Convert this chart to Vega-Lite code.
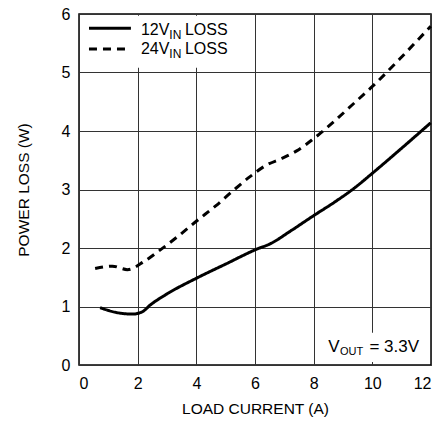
{
  "$schema": "https://vega.github.io/schema/vega-lite/v6.json",
  "width": 352,
  "height": 351,
  "autosize": {"type": "none"},
  "padding": {"left": 79, "top": 14, "right": 12, "bottom": 56},
  "background": "white",
  "config": {
    "font": "Liberation Sans",
    "view": {"stroke": "black", "strokeWidth": 1.5},
    "axis": {
      "domain": false,
      "ticks": false,
      "grid": true,
      "gridColor": "#333333",
      "gridWidth": 1,
      "gridOpacity": 1,
      "labelFont": "Liberation Sans",
      "titleFont": "Liberation Sans",
      "labelFontSize": 16,
      "titleFontSize": 15.5,
      "labelColor": "black",
      "titleColor": "black",
      "titleFontWeight": "normal"
    }
  },
  "datasets": {
    "curves": [
      {"series": "12V", "current": 0.72, "loss": 0.98},
      {"series": "12V", "current": 1.25, "loss": 0.90},
      {"series": "12V", "current": 1.82, "loss": 0.87},
      {"series": "12V", "current": 2.16, "loss": 0.91},
      {"series": "12V", "current": 2.44, "loss": 1.03},
      {"series": "12V", "current": 2.95, "loss": 1.20},
      {"series": "12V", "current": 4.03, "loss": 1.49},
      {"series": "12V", "current": 5.02, "loss": 1.73},
      {"series": "12V", "current": 6.01, "loss": 1.97},
      {"series": "12V", "current": 6.55, "loss": 2.08},
      {"series": "12V", "current": 7.18, "loss": 2.28},
      {"series": "12V", "current": 8.02, "loss": 2.56},
      {"series": "12V", "current": 8.70, "loss": 2.78},
      {"series": "12V", "current": 9.35, "loss": 3.01},
      {"series": "12V", "current": 10.03, "loss": 3.29},
      {"series": "12V", "current": 10.94, "loss": 3.68},
      {"series": "12V", "current": 11.99, "loss": 4.14},
      {"series": "24V", "current": 0.55, "loss": 1.65},
      {"series": "24V", "current": 1.14, "loss": 1.69},
      {"series": "24V", "current": 1.65, "loss": 1.63},
      {"series": "24V", "current": 2.22, "loss": 1.77},
      {"series": "24V", "current": 2.67, "loss": 1.93},
      {"series": "24V", "current": 3.30, "loss": 2.17},
      {"series": "24V", "current": 4.03, "loss": 2.47},
      {"series": "24V", "current": 4.66, "loss": 2.72},
      {"series": "24V", "current": 5.23, "loss": 2.97},
      {"series": "24V", "current": 5.83, "loss": 3.22},
      {"series": "24V", "current": 6.40, "loss": 3.42},
      {"series": "24V", "current": 6.91, "loss": 3.53},
      {"series": "24V", "current": 7.42, "loss": 3.66},
      {"series": "24V", "current": 7.95, "loss": 3.85},
      {"series": "24V", "current": 8.60, "loss": 4.12},
      {"series": "24V", "current": 9.30, "loss": 4.44},
      {"series": "24V", "current": 10.02, "loss": 4.77},
      {"series": "24V", "current": 10.93, "loss": 5.23},
      {"series": "24V", "current": 11.99, "loss": 5.79}
    ],
    "boxes": [
      {"x1": 0.05, "x2": 5.3, "y1": 5.08, "y2": 5.97},
      {"x1": 8.4, "x2": 11.95, "y1": 0.05, "y2": 0.55}
    ],
    "legendLines": [
      {"series": "12V", "current": 0.34, "loss": 5.755},
      {"series": "12V", "current": 1.77, "loss": 5.755},
      {"series": "24V", "current": 0.34, "loss": 5.40},
      {"series": "24V", "current": 1.77, "loss": 5.40}
    ],
    "mainText": [
      {"x": 2.11, "y": 5.72, "t": "12V"},
      {"x": 3.61, "y": 5.72, "t": "LOSS"},
      {"x": 2.11, "y": 5.40, "t": "24V"},
      {"x": 3.61, "y": 5.40, "t": "LOSS"}
    ],
    "subText": [
      {"x": 3.08, "y": 5.72, "t": "IN"},
      {"x": 3.08, "y": 5.40, "t": "IN"}
    ],
    "voutMain": [
      {"x": 8.5, "y": 0.313, "t": "V"},
      {"x": 9.9, "y": 0.313, "t": "= 3.3V"}
    ],
    "voutSub": [
      {"x": 8.9, "y": 0.313, "t": "OUT"}
    ]
  },
  "layer": [
    {
      "data": {"name": "boxes"},
      "mark": {"type": "rect", "fill": "white"},
      "encoding": {
        "x": {"field": "x1", "type": "quantitative", "scale": {"domain": [0, 12]}},
        "x2": {"field": "x2"},
        "y": {"field": "y1", "type": "quantitative", "scale": {"domain": [0, 6]}},
        "y2": {"field": "y2"}
      }
    },
    {
      "data": {"name": "curves"},
      "mark": {"type": "line", "interpolate": "monotone", "color": "black", "strokeWidth": 3},
      "encoding": {
        "x": {"field": "current", "type": "quantitative", "title": "LOAD CURRENT (A)",
              "scale": {"domain": [0, 12], "nice": false},
              "axis": {"values": [0, 2, 4, 6, 8, 10, 12], "format": "d", "labelPadding": 10, "titlePadding": 10}},
        "y": {"field": "loss", "type": "quantitative", "title": "POWER LOSS (W)",
              "scale": {"domain": [0, 6], "nice": false},
              "axis": {"values": [0, 1, 2, 3, 4, 5, 6], "format": "d", "labelPadding": 9, "titlePadding": 30}},
        "detail": {"field": "series"},
        "strokeDash": {"field": "series", "type": "nominal",
                       "scale": {"domain": ["12V", "24V"], "range": [[1, 0], [8, 6]]}, "legend": null}
      }
    },
    {
      "data": {"name": "legendLines"},
      "mark": {"type": "line", "color": "black", "strokeWidth": 3},
      "encoding": {
        "x": {"field": "current", "type": "quantitative"},
        "y": {"field": "loss", "type": "quantitative"},
        "detail": {"field": "series"},
        "strokeDash": {"field": "series", "type": "nominal",
                       "scale": {"domain": ["12V", "24V"], "range": [[1, 0], [8, 6]]}, "legend": null}
      }
    },
    {
      "data": {"name": "mainText"},
      "mark": {"type": "text", "align": "left", "baseline": "middle", "fontSize": 16, "color": "black"},
      "encoding": {
        "x": {"field": "x", "type": "quantitative"},
        "y": {"field": "y", "type": "quantitative"},
        "text": {"field": "t"}
      }
    },
    {
      "data": {"name": "subText"},
      "mark": {"type": "text", "align": "left", "baseline": "middle", "fontSize": 12, "dy": 5, "color": "black"},
      "encoding": {
        "x": {"field": "x", "type": "quantitative"},
        "y": {"field": "y", "type": "quantitative"},
        "text": {"field": "t"}
      }
    },
    {
      "data": {"name": "voutMain"},
      "mark": {"type": "text", "align": "left", "baseline": "middle", "fontSize": 17, "color": "black"},
      "encoding": {
        "x": {"field": "x", "type": "quantitative"},
        "y": {"field": "y", "type": "quantitative"},
        "text": {"field": "t"}
      }
    },
    {
      "data": {"name": "voutSub"},
      "mark": {"type": "text", "align": "left", "baseline": "middle", "fontSize": 11, "dy": 5, "color": "black"},
      "encoding": {
        "x": {"field": "x", "type": "quantitative"},
        "y": {"field": "y", "type": "quantitative"},
        "text": {"field": "t"}
      }
    }
  ]
}
